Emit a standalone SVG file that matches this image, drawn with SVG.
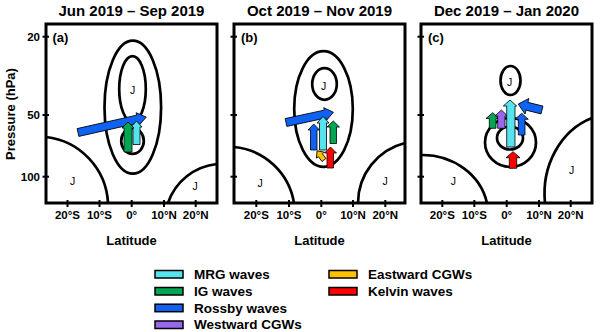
<svg xmlns="http://www.w3.org/2000/svg" width="600" height="332" viewBox="0 0 600 332">
<style>
text{font-family:"Liberation Sans",Arial,sans-serif;fill:#000}
.title{font-size:15px;font-weight:bold;text-anchor:middle}
.tick{font-size:11.5px;font-weight:bold;text-anchor:middle}
.ytick{font-size:11.5px;font-weight:bold;text-anchor:end}
.axis{font-size:13px;font-weight:bold;text-anchor:middle}
.plab{font-size:13px;font-weight:bold}
.j{font-size:10.5px;text-anchor:middle}
.leg{font-size:13.5px;font-weight:bold}
.frame{fill:none;stroke:#000;stroke-width:3}
.tk{stroke:#000;stroke-width:2}
.ct{fill:none;stroke:#000;stroke-width:2.7}
.ar{stroke:#000;stroke-width:0.8;stroke-linejoin:miter}
.sw{stroke:#000;stroke-width:1.5}
.mrg{fill:#55E3EE}
.ig{fill:#00A651}
.ros{fill:#0F62F2}
.wcg{fill:#9966EE}
.ecg{fill:#FFC000}
.kel{fill:#FF0000}
</style>
<rect width="600" height="332" fill="#fff"/>

<!-- shared axis labels -->
<g id="yaxis">
<text class="axis" transform="translate(14.5,114) rotate(-90)">Pressure (hPa)</text>
<text class="ytick" x="40" y="40.8">20</text>
<text class="ytick" x="40" y="119">50</text>
<text class="ytick" x="40" y="181">100</text>
</g>

<!-- Panel a -->
<g id="panel-a">
<text class="title" x="131.5" y="15.5">Jun 2019 – Sep 2019</text>
<rect class="frame" x="46" y="24" width="171" height="179"/>
<g class="tk">
<line x1="42.5" y1="36.7" x2="49" y2="36.7"/><line x1="42.5" y1="115" x2="49" y2="115"/><line x1="42.5" y1="176.7" x2="49" y2="176.7"/>
<line x1="67.5" y1="200" x2="67.5" y2="207"/><line x1="99.5" y1="200" x2="99.5" y2="207"/><line x1="131.7" y1="200" x2="131.7" y2="207"/><line x1="164" y1="200" x2="164" y2="207"/><line x1="195.7" y1="200" x2="195.7" y2="207"/>
</g>
<text class="tick" x="67.5" y="219">20°S</text><text class="tick" x="99.5" y="219">10°S</text><text class="tick" x="131.7" y="219">0°</text><text class="tick" x="164" y="219">10°N</text><text class="tick" x="195.7" y="219">20°N</text>
<text class="axis" x="131.5" y="244.5">Latitude</text>
<text class="plab" x="52.5" y="41.5">(a)</text>
<ellipse class="ct" cx="132.8" cy="107.2" rx="28.3" ry="66.5"/>
<ellipse class="ct" cx="132.5" cy="89" rx="13.3" ry="32.8"/>
<ellipse class="ct" cx="132.5" cy="141" rx="11.3" ry="12.8"/>
<path class="ct" d="M46 137 A70 70 0 0 1 108 203"/>
<path class="ct" d="M168 203 A58 58 0 0 1 217 164"/>
<text class="j" x="132.7" y="94">J</text>
<text class="j" x="72.7" y="185">J</text>
<text class="j" x="195" y="190">J</text>
</g>
<g id="arrows-a">
<polygon class="ar ros" points="0,-4 61,-4 61,-6.5 70,0 61,6.5 61,4 0,4" transform="translate(78,132.5) rotate(-12.7)"/>
<polygon class="ar mrg" points="133,144.5 133,127 131,127 136.5,121 142,127 140,127 140,144.5"/>
<polygon class="ar ig" points="124,152 124,128 122,128 128,122 134,128 132,128 132,152"/>
</g>

<!-- Panel b -->
<g id="panel-b">
<text class="title" x="319.5" y="15.5">Oct 2019 – Nov 2019</text>
<rect class="frame" x="234" y="24" width="171" height="179"/>
<g class="tk">
<line x1="230.5" y1="36.7" x2="237" y2="36.7"/><line x1="230.5" y1="115" x2="237" y2="115"/><line x1="230.5" y1="176.7" x2="237" y2="176.7"/>
<line x1="256.3" y1="200" x2="256.3" y2="207"/><line x1="289" y1="200" x2="289" y2="207"/><line x1="321.3" y1="200" x2="321.3" y2="207"/><line x1="353" y1="200" x2="353" y2="207"/><line x1="385.3" y1="200" x2="385.3" y2="207"/>
</g>
<text class="tick" x="256.3" y="219">20°S</text><text class="tick" x="289" y="219">10°S</text><text class="tick" x="321.3" y="219">0°</text><text class="tick" x="353" y="219">10°N</text><text class="tick" x="385.3" y="219">20°N</text>
<text class="axis" x="319.5" y="244.5">Latitude</text>
<text class="plab" x="241" y="41.5">(b)</text>
<ellipse class="ct" cx="323.5" cy="109" rx="29.3" ry="57.8"/>
<ellipse class="ct" cx="324.5" cy="84" rx="12.3" ry="15.8"/>
<path class="ct" d="M234 147 A67 67 0 0 1 294 203"/>
<path class="ct" d="M358 203 A62 62 0 0 1 405 143"/>
<text class="j" x="323.5" y="90">J</text>
<text class="j" x="260" y="186.5">J</text>
<text class="j" x="385" y="184.5">J</text>
</g>
<g id="arrows-b">
<polygon class="ar ros" points="0,-4 40,-4 40,-6.5 48.5,0 40,6.5 40,4 0,4" transform="translate(286,122.5) rotate(-12.2)"/>
<polygon class="ar ecg" points="0,-2.5 6,-2.5 6,-5 11.5,0 6,5 6,2.5 0,2.5" transform="translate(324,160) rotate(-127)"/>
<polygon class="ar ros" points="310.5,150 310.5,130 308,130 313.75,124 319.5,130 317,130 317,150"/>
<polygon class="ar ig" points="330,143.5 330,127 327,127 333.25,121 339.5,127 336.5,127 336.5,143.5"/>
<polygon class="ar mrg" points="319.5,150 319.5,123 317,123 323,116.5 329,123 326.5,123 326.5,150"/>
<polygon class="ar kel" points="327,168 327,153 324.5,153 330.5,147 336.5,153 333.5,153 333.5,168"/>
</g>

<!-- Panel c -->
<g id="panel-c">
<text class="title" x="506.5" y="15.5">Dec 2019 – Jan 2020</text>
<rect class="frame" x="421" y="24" width="171" height="179"/>
<g class="tk">
<line x1="417.5" y1="36.7" x2="424" y2="36.7"/><line x1="417.5" y1="115" x2="424" y2="115"/><line x1="417.5" y1="176.7" x2="424" y2="176.7"/>
<line x1="442.3" y1="200" x2="442.3" y2="207"/><line x1="474.3" y1="200" x2="474.3" y2="207"/><line x1="506.7" y1="200" x2="506.7" y2="207"/><line x1="539" y1="200" x2="539" y2="207"/><line x1="570.7" y1="200" x2="570.7" y2="207"/>
</g>
<text class="tick" x="442.3" y="219">20°S</text><text class="tick" x="474.3" y="219">10°S</text><text class="tick" x="506.7" y="219">0°</text><text class="tick" x="539" y="219">10°N</text><text class="tick" x="570.7" y="219">20°N</text>
<text class="axis" x="506.5" y="244.5">Latitude</text>
<text class="plab" x="428" y="41.5">(c)</text>
<ellipse class="ct" cx="510.5" cy="80.5" rx="10" ry="14.5"/>
<ellipse class="ct" cx="510.5" cy="142.5" rx="25.5" ry="24.5"/>
<ellipse class="ct" cx="510" cy="138" rx="13" ry="11.5"/>
<path class="ct" d="M421 155 A66 60 0 0 1 487 203"/>
<path class="ct" d="M545 203 A70 80 0 0 1 592 118"/>
<text class="j" x="509.5" y="86">J</text>
<text class="j" x="453.3" y="185">J</text>
<text class="j" x="571.7" y="174">J</text>
</g>
<g id="arrows-c">
<polygon class="ar ig" points="489.3,128.3 489.3,118.5 486,118.5 492.7,112.7 499.3,118.5 496,118.5 496,128.3"/>
<polygon class="ar wcg" points="497.7,128.3 497.7,116 495,116 501.4,110 507.7,116 505,116 505,128.3"/>
<polygon class="ar ros" points="518.3,135 518.3,119.3 515,119.3 521.7,113.3 528.3,119.3 525,119.3 525,135"/>
<polygon class="ar mrg" points="506.7,147 506.7,106 503.3,106 510,100 516.7,106 515,106 515,147"/>
<polygon class="ar ros" points="0,-4 15.5,-4 15.5,-8 24.5,0 15.5,8 15.5,4 0,4" transform="translate(542,110) rotate(-166)"/>
<polygon class="ar kel" points="509.3,168.3 509.3,157.7 506,157.7 513,151.7 520,157.7 516.7,157.7 516.7,168.3"/>
</g>

<!-- Legend -->
<g id="legend">
<rect class="sw mrg" x="155" y="270.5" width="28" height="7.5"/>
<text class="leg" x="194" y="279">MRG waves</text>
<rect class="sw ig" x="155" y="287.5" width="28" height="7.5"/>
<text class="leg" x="194" y="295.8">IG waves</text>
<rect class="sw ros" x="155" y="304.2" width="28" height="7.5"/>
<text class="leg" x="194" y="312.5">Rossby waves</text>
<rect class="sw wcg" x="155" y="321" width="28" height="7.5"/>
<text class="leg" x="194" y="329.3">Westward CGWs</text>
<rect class="sw ecg" x="329" y="270.5" width="28" height="7.5"/>
<text class="leg" x="368" y="279">Eastward CGWs</text>
<rect class="sw kel" x="329" y="287.5" width="28" height="7.5"/>
<text class="leg" x="368" y="295.8">Kelvin waves</text>
</g>
</svg>
